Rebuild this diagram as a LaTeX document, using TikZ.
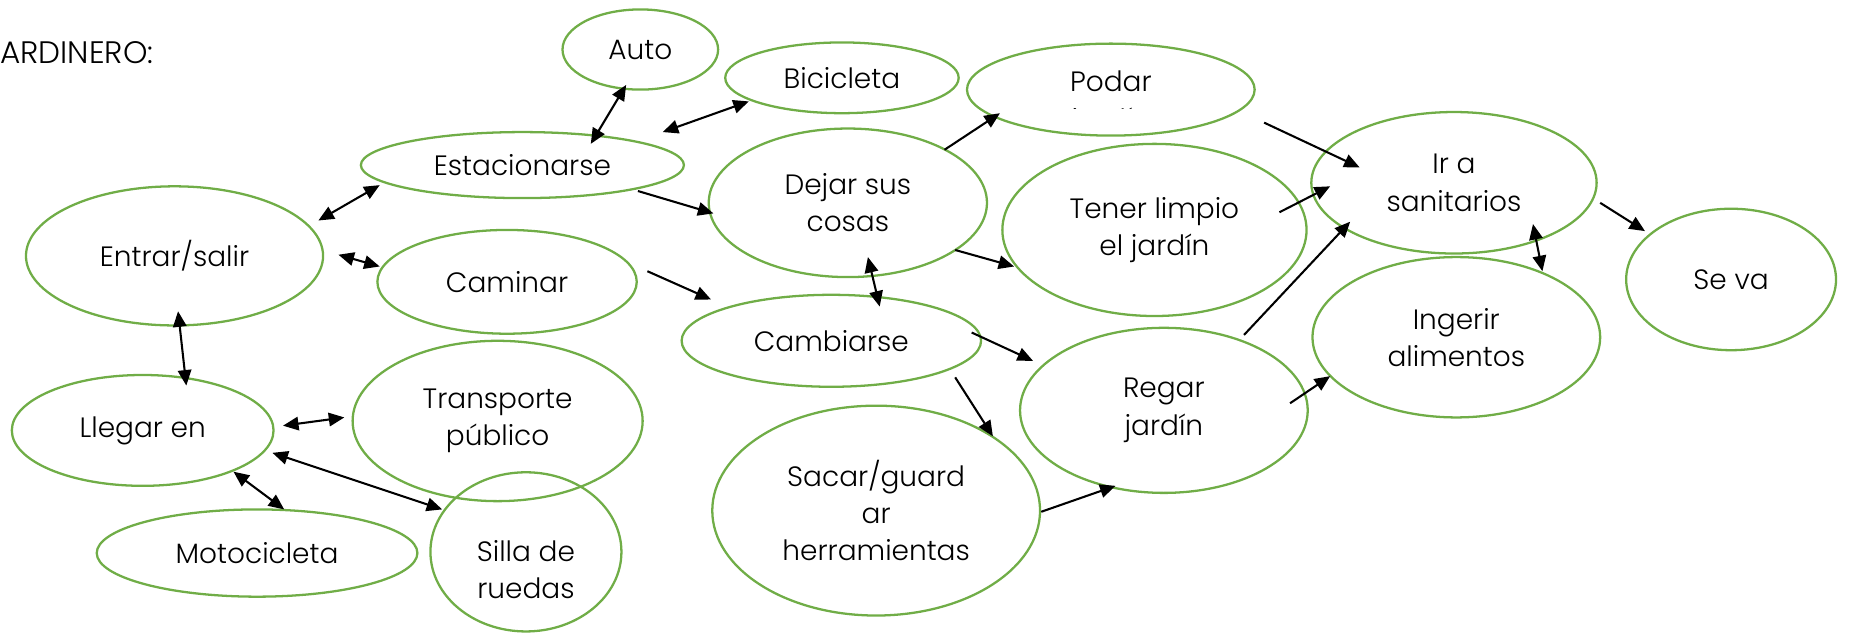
\documentclass[tikz,border=0pt]{standalone}
\usepackage{fontspec}
\setmainfont{Poppins}[UprightFont=* Light]
\usetikzlibrary{shapes.geometric, arrows.meta}

\definecolor{leaf}{HTML}{70AD47}

\begin{document}
\begin{tikzpicture}[x=0.02cm, y=-0.02cm,
    blob/.style={ellipse, draw=leaf, line width=1.1pt, inner sep=0pt, align=center,
                 font=\fontsize{13.5}{18}\selectfont},
    link/.style={-{Triangle[length=7.5pt,width=6.5pt]}, line width=1pt},
    both/.style={{Triangle[length=7.5pt,width=6.5pt]}-{Triangle[length=7.5pt,width=6.5pt]}, line width=1pt}]
    \useasboundingbox (0,0) rectangle (1568,536);

    % Title, cut at the left edge
    \node[anchor=west, inner sep=0pt, font=\fontsize{15}{18}\selectfont] (title) at (0,45) {ARDINERO:};

    % Define the ellipses
    \node[blob, minimum width=2.64cm, minimum height=1.36cm] (auto) at (543,42) {Auto};
    \node[blob, minimum width=3.96cm, minimum height=1.2cm] (bici) at (714,66) {Bicicleta};
    \node[blob, minimum width=4.88cm, minimum height=1.56cm] (podar) at (942,76) {};
    \node[blob, minimum width=5.48cm, minimum height=1.12cm] (estac) at (443,140) {Estacionarse};
    \node[blob, minimum width=4.72cm, minimum height=2.52cm] (dejar) at (719,172) {Dejar sus\\cosas};
    \node[blob, minimum width=5.16cm, minimum height=2.92cm] (tener) at (979,195) {Tener limpio\\el jardín};
    \node[blob, minimum width=4.84cm, minimum height=2.4cm] (ira) at (1233,155) {Ir a\\sanitarios};
    \node[blob, minimum width=3.56cm, minimum height=2.4cm] (seva) at (1468,237) {Se va};
    \node[blob, minimum width=5.04cm, minimum height=2.36cm] (entrar) at (148,217) {Entrar/salir};
    \node[blob, minimum width=4.4cm, minimum height=1.76cm] (caminar) at (430,239) {Caminar};
    \node[blob, minimum width=5.08cm, minimum height=1.56cm] (cambiar) at (705,289) {Cambiarse};
    \node[blob, minimum width=4.88cm, minimum height=2.8cm] (regar) at (987,348) {Regar\\jardín};
    \node[blob, minimum width=4.88cm, minimum height=2.72cm] (ingerir) at (1235,286) {Ingerir\\alimentos};
    \node[blob, minimum width=4.44cm, minimum height=1.88cm] (llegar) at (121,365) {Llegar en};
    \node[blob, minimum width=4.92cm, minimum height=2.72cm] (transp) at (422,357) {Transporte\\público};
    \node[blob, minimum width=5.44cm, minimum height=1.48cm] (moto) at (218,469) {Motocicleta};
    \node[blob, minimum width=3.24cm, minimum height=2.7cm] (silla) at (446,468) {\rule{0pt}{0.95cm}Silla de\\ruedas};
    \node[blob, minimum width=5.56cm, minimum height=3.56cm] (sacar) at (743,433) {Sacar/guard\\ar\\herramientas};

    % Second line of the pruning label is cut off
    \begin{scope}
        \clip (820,40) rectangle (1070,92);
        \node[anchor=north, inner sep=0pt, align=center, font=\fontsize{13.5}{18}\selectfont] (podartext) at (942,60) {Podar\\jardín};
    \end{scope}

    % Two-way connectors
    \draw[both] ([shift={(-12,30)}]auto.center) -- ([shift={(58,-18)}]estac.center);
    \draw[both] ([shift={(-79,20)}]bici.center) -- ([shift={(119,-28)}]estac.center);
    \draw[both] ([shift={(-121,17)}]estac.center) -- ([shift={(122,-30)}]entrar.center);
    \draw[both] ([shift={(139,-1)}]entrar.center) -- ([shift={(-108,-13)}]caminar.center);
    \draw[both] ([shift={(3,47)}]entrar.center) -- ([shift={(37,-38)}]llegar.center);
    \draw[both] ([shift={(119,-4)}]llegar.center) -- ([shift={(-130,-3)}]transp.center);
    \draw[both] ([shift={(110,19)}]llegar.center) -- ([shift={(-71,-36)}]silla.center);
    \draw[both] ([shift={(77,35)}]llegar.center) -- ([shift={(23,-37)}]moto.center);
    \draw[both] ([shift={(17,46)}]dejar.center) -- ([shift={(41,-29)}]cambiar.center);
    \draw[both] ([shift={(67,35)}]ira.center) -- ([shift={(73,-56)}]ingerir.center);

    % One-way connectors
    \draw[link] ([shift={(98,22)}]estac.center) -- ([shift={(-114,9)}]dejar.center);
    \draw[link] ([shift={(119,-9)}]caminar.center) -- ([shift={(-102,-35)}]cambiar.center);
    \draw[link] ([shift={(82,-45)}]dejar.center) -- ([shift={(-94,20)}]podar.center);
    \draw[link] ([shift={(91,40)}]dejar.center) -- ([shift={(-119,31)}]tener.center);
    \draw[link] ([shift={(130,28)}]podar.center) -- ([shift={(-80,-13)}]ira.center);
    \draw[link] ([shift={(106,-15)}]tener.center) -- ([shift={(-105,3)}]ira.center);
    \draw[link] ([shift={(68,-64)}]regar.center) -- ([shift={(-88,33)}]ira.center);
    \draw[link] ([shift={(119,-7)}]cambiar.center) -- ([shift={(-111,-42)}]regar.center);
    \draw[link] ([shift={(105,31)}]cambiar.center) -- ([shift={(99,-63)}]sacar.center);
    \draw[link] ([shift={(140,1)}]sacar.center) -- ([shift={(-41,64)}]regar.center);
    \draw[link] ([shift={(107,-6)}]regar.center) -- ([shift={(-107,33)}]ingerir.center);
    \draw[link] ([shift={(124,17)}]ira.center) -- ([shift={(-73,-41)}]seva.center);
\end{tikzpicture}
\end{document}
